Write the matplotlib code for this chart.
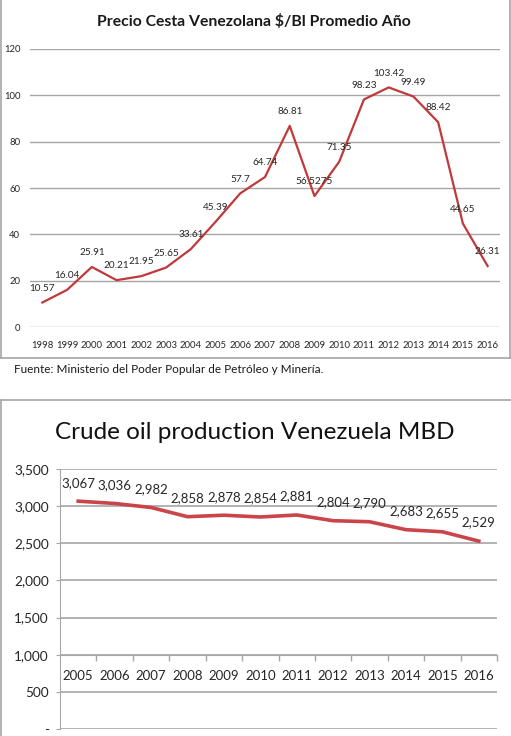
import matplotlib
matplotlib.use("Agg")
import matplotlib.pyplot as plt
from matplotlib.lines import Line2D
import numpy as np

plt.rcParams['font.family'] = ['Lato', 'DejaVu Sans']

# ---- Data ----
price_years = ['1998', '1999', '2000', '2001', '2002', '2003', '2004', '2005', '2006', '2007',
               '2008', '2009', '2010', '2011', '2012', '2013', '2014', '2015', '2016']
price_values = [10.57, 16.04, 25.91, 20.21, 21.95, 25.65, 33.61, 45.39, 57.7, 64.74,
                86.81, 56.5275, 71.35, 98.23, 103.42, 99.49, 88.42, 44.65, 26.31]
price_labels = ['10.57', '16.04', '25.91', '20.21', '21.95', '25.65', '33.61', '45.39', '57.7', '64.74',
                '86.81', '56.5275', '71.35', '98.23', '103.42', '99.49', '88.42', '44.65', '26.31']
price_yticks = [0, 20, 40, 60, 80, 100, 120]

prod_years = ['2005', '2006', '2007', '2008', '2009', '2010', '2011', '2012', '2013', '2014', '2015', '2016']
prod_values = [3067, 3036, 2982, 2858, 2878, 2854, 2881, 2804, 2790, 2683, 2655, 2529]
prod_yticks = [0, 500, 1000, 1500, 2000, 2500, 3000, 3500]
prod_yticklabels = ['-', '500', '1,000', '1,500', '2,000', '2,500', '3,000', '3,500']

W, H = 511, 736
fig = plt.figure(figsize=(W / 100, H / 100), dpi=100)

def fx(px):
    return px / W

def fy(py):
    return 1 - py / H

grid_c = '#A6A6A6'
text_c = '#262626'

# ---- Top chart ----
ax1 = fig.add_axes([fx(30), fy(327), fx(500) - fx(30), fy(49) - fy(327)])
x1 = np.arange(len(price_years))
ax1.plot(x1, price_values, color='#C0393B', lw=1.6)
ax1.set_xlim(-0.5, len(price_years) - 0.5)
ax1.set_ylim(0, 120)
ax1.set_yticks(price_yticks)
ax1.set_yticklabels([str(v) for v in price_yticks])
ax1.set_xticks(x1)
ax1.set_xticklabels(price_years)
ax1.tick_params(axis='both', length=0, labelsize=6.8, colors=text_c)
ax1.tick_params(axis='y', pad=7)
ax1.tick_params(axis='x', pad=10)
ax1.grid(axis='y', color=grid_c, lw=1)
ax1.set_axisbelow(True)
for s in ax1.spines.values():
    s.set_visible(False)
for xi, v, lab in zip(x1, price_values, price_labels):
    ax1.annotate(lab, (xi, v), xytext=(0, 7), textcoords='offset points',
                 ha='center', va='bottom', fontsize=7.2, color=text_c)

fig.text(fx(254), fy(22), 'Precio Cesta Venezolana $/Bl Promedio Año', ha='center', va='center',
         fontsize=11.3, fontweight='bold', color='#1a1a1a')
fig.text(fx(14), fy(370), 'Fuente: Ministerio del Poder Popular de Petróleo y Minería.', ha='left',
         va='center', fontsize=8.5, color='#1a1a1a')

# frame of top chart
fig.add_artist(Line2D([fx(1), fx(1)], [fy(0), fy(358)], color=grid_c, lw=1.2))
fig.add_artist(Line2D([fx(510), fx(510)], [fy(0), fy(358)], color=grid_c, lw=1.2))
fig.add_artist(Line2D([fx(1), fx(510)], [fy(358), fy(358)], color=grid_c, lw=1.2))

# ---- Bottom chart ----
ax2 = fig.add_axes([fx(60), fy(729), fx(497) - fx(60), fy(469) - fy(729)])
x2 = np.arange(len(prod_years))
ax2.plot(x2, prod_values, color='#C9454A', lw=2.6)
ax2.set_xlim(-0.5, len(prod_years) - 0.5)
ax2.set_ylim(0, 3500)
ax2.set_yticks(prod_yticks)
ax2.set_yticklabels(prod_yticklabels)
ax2.set_xticks(x2)
ax2.set_xticklabels(prod_years)
ax2.set_xticks(np.arange(len(prod_years)) + 0.5, minor=True)
ax2.tick_params(axis='x', which='major', length=0, labelsize=9.5, colors=text_c, pad=11)
ax2.tick_params(axis='x', which='minor', length=4, direction='out', color=grid_c, width=1)
ax2.tick_params(axis='y', length=3, color=grid_c, labelsize=9.8, colors=text_c, pad=5)
ax2.grid(axis='y', color=grid_c, lw=1.2)
ax2.set_axisbelow(True)
for k in ['top', 'right']:
    ax2.spines[k].set_visible(False)
ax2.spines['bottom'].set_position(('data', 1000))
ax2.spines['bottom'].set_color(grid_c)
ax2.spines['left'].set_color(grid_c)
for xi, v in zip(x2, prod_values):
    ax2.annotate(f'{v:,}', (xi, v), xytext=(0, 9), textcoords='offset points',
                 ha='center', va='bottom', fontsize=9.5, color=text_c)

fig.text(fx(255), fy(432), 'Crude oil production Venezuela MBD', ha='center', va='center',
         fontsize=17.5, color='#111111')

# frame of bottom chart
fig.add_artist(Line2D([fx(1), fx(511)], [fy(400), fy(400)], color=grid_c, lw=1.2))
fig.add_artist(Line2D([fx(1), fx(1)], [fy(400), fy(736)], color=grid_c, lw=1.2))

fig.savefig('out.png', dpi=100)
